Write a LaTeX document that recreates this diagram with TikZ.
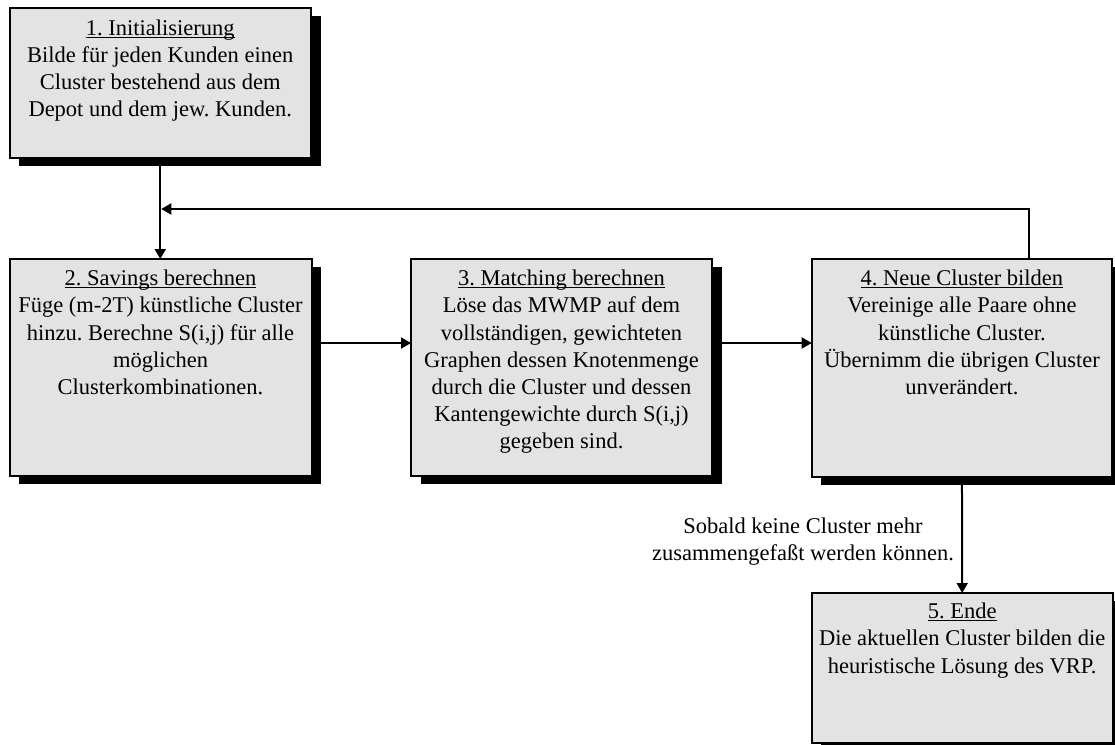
\documentclass[tikz,border=0pt]{standalone}
\usepackage{fontspec}
\setmainfont{Liberation Serif}
\usetikzlibrary{shadows,arrows.meta}
\definecolor{boxgray}{HTML}{E3E3E3}
\frenchspacing
% underlined heading with a fixed rule below the baseline
\newcommand\steptitle[1]{\setbox0\hbox{#1}\rlap{\rule[-2.6pt]{\wd0}{1.1pt}}\box0}
\tikzset{
  stepbox/.style={draw=black, line width=2pt, fill=boxgray, anchor=north west,
    inner sep=0pt, outer sep=0pt,
    drop shadow={shadow xshift=9.5pt, shadow yshift=-7.5pt, fill=black, opacity=1}},
  steptext/.style={anchor=north, inner sep=0pt, align=center,
    font=\fontsize{22.5}{27.2}\selectfont\frenchspacing},
  conn/.style={line width=2pt, -{Triangle[length=10pt,width=11pt]}},
}
\begin{document}
\begin{tikzpicture}[x=1pt,y=-1pt]
\useasboundingbox (0,0) rectangle (1115,744);

% step boxes
\node[stepbox, minimum width=301.5pt, minimum height=150pt] (b1) at (9.5,8) {};
\node[stepbox, minimum width=302pt, minimum height=217pt] (b2) at (9.5,259) {};
\node[stepbox, minimum width=301pt, minimum height=217pt] (b3) at (411,259) {};
\node[stepbox, minimum width=300.5pt, minimum height=218pt] (b4) at (811.7,259) {};
\node[stepbox, minimum width=301pt, minimum height=150pt] (b5) at (811.7,593) {};

% box texts
\node[steptext] (t1) at ([yshift=-8pt]b1.north) {\strut\steptitle{1. Initialisierung}\\
  Bilde für jeden Kunden einen\\Cluster bestehend aus dem\\Depot und dem jew. Kunden.};
\node[steptext] (t2) at ([yshift=-7.5pt]b2.north) {\strut\steptitle{2. Savings berechnen}\\
  Füge (m-2T) künstliche Cluster\\hinzu. Berechne S(i,j) für alle\\möglichen\\Clusterkombinationen.};
\node[steptext] (t3) at ([yshift=-7.5pt]b3.north) {\strut\steptitle{3. Matching berechnen}\\
  Löse das MWMP auf dem\\vollständigen, gewichteten\\Graphen dessen Knotenmenge\\
  durch die Cluster und dessen\\Kantengewichte durch S(i,j)\\gegeben sind.};
\node[steptext] (t4) at ([yshift=-7.5pt]b4.north) {\strut\steptitle{4. Neue Cluster bilden}\\
  Vereinige alle Paare ohne\\künstliche Cluster.\\Übernimm die übrigen Cluster\\unverändert.};
\node[steptext] (t5) at ([yshift=-6.5pt]b5.north) {\strut\steptitle{5. Ende}\\
  Die aktuellen Cluster bilden die\\heuristische Lösung des VRP.};

% condition label
\node[steptext] (cond) at (803,514) {\strut Sobald keine Cluster mehr\\zusammengefaßt werden können.};

% connectors
\coordinate (row) at (0,343);
\coordinate (loopr) at (1029,209);
\draw[conn] (b1.south) -- (b1.south |- b2.north);
\draw[conn] (b2.east |- row) -- (b3.west |- row);
\draw[conn] (b3.east |- row) -- (b4.west |- row);
\draw[conn] (b4.north -| loopr) -- (loopr) -- ([xshift=1pt]b1.south |- loopr);
\draw[conn] (b4.south) -- (b5.north);
\end{tikzpicture}
\end{document}
